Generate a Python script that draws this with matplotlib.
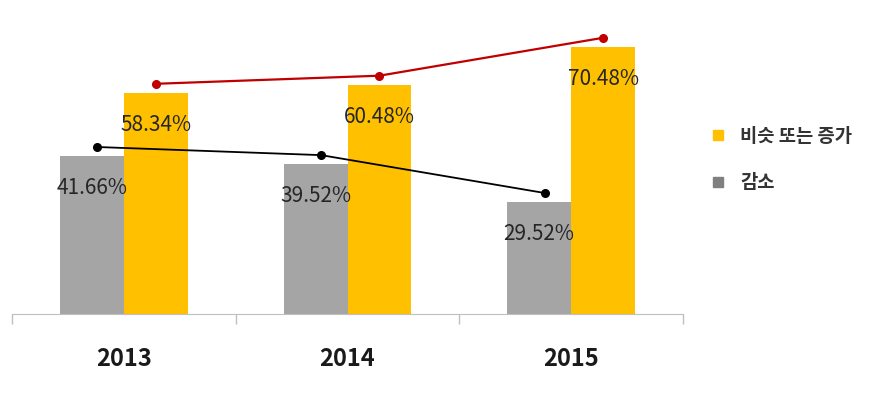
import numpy as np
import matplotlib.pyplot as plt
from matplotlib.lines import Line2D

plt.rcParams['font.family'] = ['Noto Sans CJK KR', 'DejaVu Sans']

# data
years = ['2013', '2014', '2015']
increase = [58.34, 60.48, 70.48]   # 비슷 또는 증가
decrease = [41.66, 39.52, 29.52]   # 감소
labels = ['비슷 또는 증가', '감소']

orange = '#FFC000'
gray = '#A5A5A5'
line_offset = 2.4
w = 0.286

fig = plt.figure(figsize=(8.72, 4.07), dpi=100)
ax = fig.add_axes([12 / 872, 93 / 407, (683 - 12) / 872, 314 / 407])

x = np.arange(len(years))
ax.bar(x - w / 2, decrease, w, color=gray, zorder=2)
ax.bar(x + w / 2, increase, w, color=orange, zorder=2)

# trend lines just above the bars
ax.plot(x + w / 2, np.array(increase) + line_offset, color='#C00000', lw=1.6,
        marker='o', ms=5.5, zorder=4)
ax.plot(x - w / 2 + 0.025, np.array(decrease) + line_offset, color='#000000', lw=1.3,
        marker='o', ms=5.5, zorder=4)

for xi, v in zip(x, increase):
    ax.annotate(f'{v:.2f}%', (xi + w / 2, v), xytext=(0, -32), textcoords='offset pixels',
                ha='center', va='center', fontsize=15, color='#262626', zorder=5)
for xi, v in zip(x, decrease):
    ax.annotate(f'{v:.2f}%', (xi - w / 2, v), xytext=(0, -32), textcoords='offset pixels',
                ha='center', va='center', fontsize=15, color='#262626', zorder=5)

ax.set_xlim(-0.5, 2.5)
ax.set_ylim(0, 314 / 3.79)
ax.set_yticks([])
ax.set_xticks(x)
ax.set_xticklabels(years, fontsize=17, fontweight='bold', color='#1a1a1a')
ax.tick_params(axis='x', which='major', length=0, pad=24)
ax.set_xticks([-0.5, 0.5, 1.5, 2.5], minor=True)
ax.tick_params(axis='x', which='minor', length=7.5, color='#BFBFBF', width=1)
for s in ['top', 'left', 'right']:
    ax.spines[s].set_visible(False)
ax.spines['bottom'].set_color('#BFBFBF')

handles = [Line2D([], [], ls='none', marker='s', ms=7, color=orange),
           Line2D([], [], ls='none', marker='s', ms=7, color='#808080')]
fig.legend(handles, labels, loc='upper left', bbox_to_anchor=(682 / 872, 1 - 110 / 407),
           frameon=False, handletextpad=0.2, labelspacing=1.45,
           prop={'size': 13.5, 'weight': 'bold'}, labelcolor='#333333')

plt.savefig('out.png')
